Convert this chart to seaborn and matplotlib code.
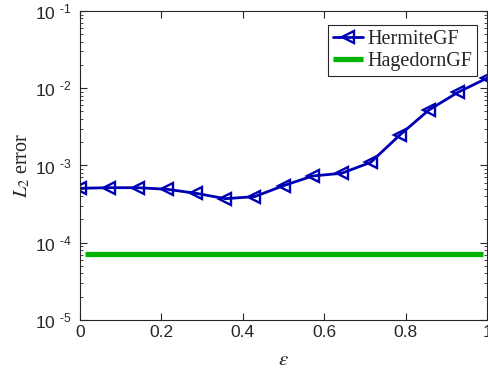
# L2 error vs epsilon: HermiteGF vs HagedornGF

import numpy as np
import pandas as pd
import matplotlib
matplotlib.use("Agg")
import matplotlib.pyplot as plt
import matplotlib.ticker as mticker
import seaborn as sns

# Data
eps = [k / 14 for k in range(15)]
hermite_err = [5.07e-4, 5.16e-4, 5.16e-4, 4.92e-4, 4.36e-4, 3.72e-4, 3.95e-4,
               5.48e-4, 7.31e-4, 7.93e-4, 1.10e-3, 2.48e-3, 5.23e-3, 8.86e-3, 1.35e-2]
hagedorn_eps = [0.012, 0.99]
hagedorn_err = [7.08e-5, 7.08e-5]
x_ticks = [0, 0.2, 0.4, 0.6, 0.8, 1]
y_exps = [-5, -4, -3, -2, -1]

df = pd.DataFrame({"eps": eps, "err": hermite_err})

sns.set_style("ticks")
plt.rcParams["font.family"] = ["Liberation Sans", "DejaVu Sans"]
plt.rcParams["mathtext.fontset"] = "custom"
plt.rcParams["mathtext.rm"] = "Liberation Sans"
plt.rcParams["mathtext.it"] = "Liberation Sans:italic"

blue = (0, 0, 0.7)
green = (0, 0.7, 0)
dark = "#262626"

fig = plt.figure(figsize=(4.88, 3.74), dpi=100)
ax = fig.add_axes([0.164, 0.1444, 0.834, 0.8262])

sns.lineplot(data=df, x="eps", y="err", ax=ax, color=blue, linewidth=2.0,
             marker="<", markersize=8, markerfacecolor="none",
             markeredgecolor=blue, markeredgewidth=1.7, label="HermiteGF")
sns.lineplot(x=hagedorn_eps, y=hagedorn_err, ax=ax, color=green,
             linewidth=3.8, solid_capstyle="butt", label="HagedornGF")

ax.set_yscale("log")
ax.set_xlim(0, 1)
ax.set_ylim(1e-5, 1e-1)
ax.set_xticks(x_ticks)
ax.set_xticklabels([f"{t:g}" for t in x_ticks])
ax.set_yticks([10.0 ** e for e in y_exps])
ax.set_yticklabels([f"10 $^{{\\text{{{e}}}}}$" for e in y_exps])
ax.yaxis.set_minor_locator(mticker.LogLocator(base=10, subs=np.arange(2, 10)))
ax.yaxis.set_minor_formatter(mticker.NullFormatter())

ax.tick_params(which="both", direction="in", top=True, right=True,
               colors=dark, labelsize=12.5, labelcolor=dark)
ax.tick_params(which="major", length=5, width=0.8)
ax.tick_params(which="minor", length=2.5, width=0.6)
ax.tick_params(axis="y", pad=6)
for s in ax.spines.values():
    s.set_visible(True)
    s.set_color(dark)
    s.set_linewidth(0.8)

ax.set_xlabel(r"$\varepsilon$", fontsize=15, color=dark, labelpad=7,
              math_fontfamily="stix")
ax.set_ylabel(r"$L_2$ error", fontsize=14.5, color=dark,
              family="Liberation Serif", math_fontfamily="stix", labelpad=2)

leg = ax.legend(loc="upper right", bbox_to_anchor=(0.975, 0.955),
                fancybox=False, framealpha=1, edgecolor=dark,
                prop={"family": "Liberation Serif", "size": 14.5},
                handlelength=1.5, handletextpad=0.2, borderpad=0.25,
                labelspacing=0.15, borderaxespad=0)
leg.get_frame().set_linewidth(0.8)

fig.savefig("out.png", dpi=100)
